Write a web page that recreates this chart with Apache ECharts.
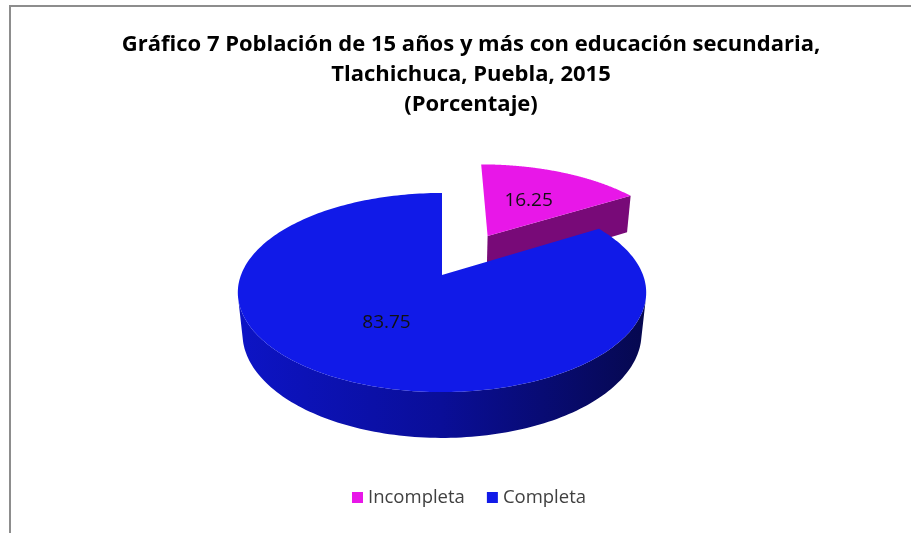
<!DOCTYPE html>
<html>
<head>
<meta charset="utf-8">
<script src="https://cdn.jsdelivr.net/npm/echarts@6/dist/echarts.min.js"></script>
<style>
  html, body { margin: 0; padding: 0; background: #fff; }
  #main { width: 911px; height: 533px; }
</style>
</head>
<body>
<div id="main"></div>
<script>
// datos del grafico
var categories = ['Incompleta', 'Completa'];
var values = [16.25, 83.75];
var titleText = 'Gráfico 7 Población de 15 años y más con educación secundaria,\nTlachichuca, Puebla, 2015\n(Porcentaje)';

// estilo
var topColors = ['#e817e8', '#111ae8'];
var sideStops = [
    [[0, '#780a78'], [1, '#780a78']],
    [[0, '#0d14c6'], [0.5, '#0a0e98'], [1, '#06084f']]
];
var explode = [0.5, 0];

// camara (pseudo 3D)
var cx = 442, cy = 275;
var S = 1001, D = 4.98, sinA = 0.48, cosA = 0.877, T = 0.235;
var labelPos = 0.52;

function proj(u, v, h) {
    var w = D - h * sinA - v * cosA;
    return [cx + S * u / w, cy - S * (h * cosA - v * sinA) / w];
}

var total = values.reduce(function (a, b) { return a + b; }, 0);
var starts = [];
var acc = 0;
for (var i = 0; i < values.length; i++) {
    starts.push(acc / total * Math.PI * 2);
    acc += values[i];
}

function makeRender(i) {
    return function (params, api) {
        var a0 = starts[i];
        var a1 = a0 + values[i] / total * Math.PI * 2;
        var mid = (a0 + a1) / 2;
        var ox = explode[i] * Math.sin(mid), oz = -explode[i] * Math.cos(mid);
        var children = [];
        var sideFill = new echarts.graphic.LinearGradient(236, 0, 645, 0,
            sideStops[i].map(function (s) { return { offset: s[0], color: s[1] }; }), true);

        // pared exterior visible
        var n = 240, run = [];
        function flush() {
            if (run.length > 1) {
                var pts = [];
                run.forEach(function (p) { pts.push(proj(ox + Math.sin(p), oz - Math.cos(p), 0)); });
                for (var k = run.length - 1; k >= 0; k--) {
                    pts.push(proj(ox + Math.sin(run[k]), oz - Math.cos(run[k]), -T));
                }
                children.push({ type: 'polygon', shape: { points: pts }, style: { fill: sideFill } });
            }
            run = [];
        }
        for (var k = 0; k <= n; k++) {
            var phi = a0 + (a1 - a0) * k / n;
            var u = ox + Math.sin(phi), v = oz - Math.cos(phi);
            var vis = -u * Math.sin(phi) - Math.cos(phi) * (D * cosA - v) > 0;
            if (vis) run.push(phi); else flush();
        }
        flush();

        // caras de corte (solo las que se ven de frente)
        function cutFace(a) {
            return [proj(ox, oz, 0), proj(ox + Math.sin(a), oz - Math.cos(a), 0),
                    proj(ox + Math.sin(a), oz - Math.cos(a), -T), proj(ox, oz, -T)];
        }
        if (ox * Math.cos(a0) - (D * cosA - oz) * Math.sin(a0) > 0.3) {
            children.push({ type: 'polygon', shape: { points: cutFace(a0) }, style: { fill: sideFill } });
        }
        if (-ox * Math.cos(a1) + (D * cosA - oz) * Math.sin(a1) > 0.3) {
            children.push({ type: 'polygon', shape: { points: cutFace(a1) }, style: { fill: sideFill } });
        }

        // cara superior
        var top = [proj(ox, oz, 0)];
        for (var k = 0; k <= n; k++) {
            var phi = a0 + (a1 - a0) * k / n;
            top.push(proj(ox + Math.sin(phi), oz - Math.cos(phi), 0));
        }
        children.push({ type: 'polygon', shape: { points: top }, style: { fill: topColors[i] } });

        // etiqueta
        var lp = proj(ox + labelPos * Math.sin(mid), oz - labelPos * Math.cos(mid), 0);
        children.push({
            type: 'text', x: lp[0], y: lp[1],
            style: {
                text: values[i].toFixed(2), align: 'center', verticalAlign: 'middle',
                fontSize: 19, fontFamily: 'Open Sans', fill: '#111'
            }
        });
        return { type: 'group', children: children };
    };
}

var series = categories.map(function (name, i) {
    return {
        name: name,
        type: 'custom',
        coordinateSystem: 'none',
        z: 2 + i,
        itemStyle: { color: topColors[i] },
        data: [[values[i]]],
        renderItem: makeRender(i)
    };
});

var chart = echarts.init(document.getElementById('main'));
chart.setOption({
    backgroundColor: '#fff',
    animation: false,
    title: {
        text: titleText,
        left: 466,
        top: 25,
        textAlign: 'center',
        textStyle: {
            fontFamily: 'Open Sans',
            fontWeight: 'bold',
            fontSize: 22,
            lineHeight: 30,
            color: '#000'
        }
    },
    legend: {
        data: categories,
        left: 347,
        top: 483,
        icon: 'rect',
        itemWidth: 11,
        itemHeight: 11,
        itemGap: 22,
        textStyle: { fontFamily: 'Open Sans', fontSize: 18.5, color: '#404040' }
    },
    graphic: [{
        type: 'rect',
        silent: true,
        shape: { x: 10, y: 6, width: 1000, height: 1000 },
        style: { fill: null, stroke: '#8d8d8d', lineWidth: 2 }
    }],
    series: series
});
</script>
</body>
</html>
